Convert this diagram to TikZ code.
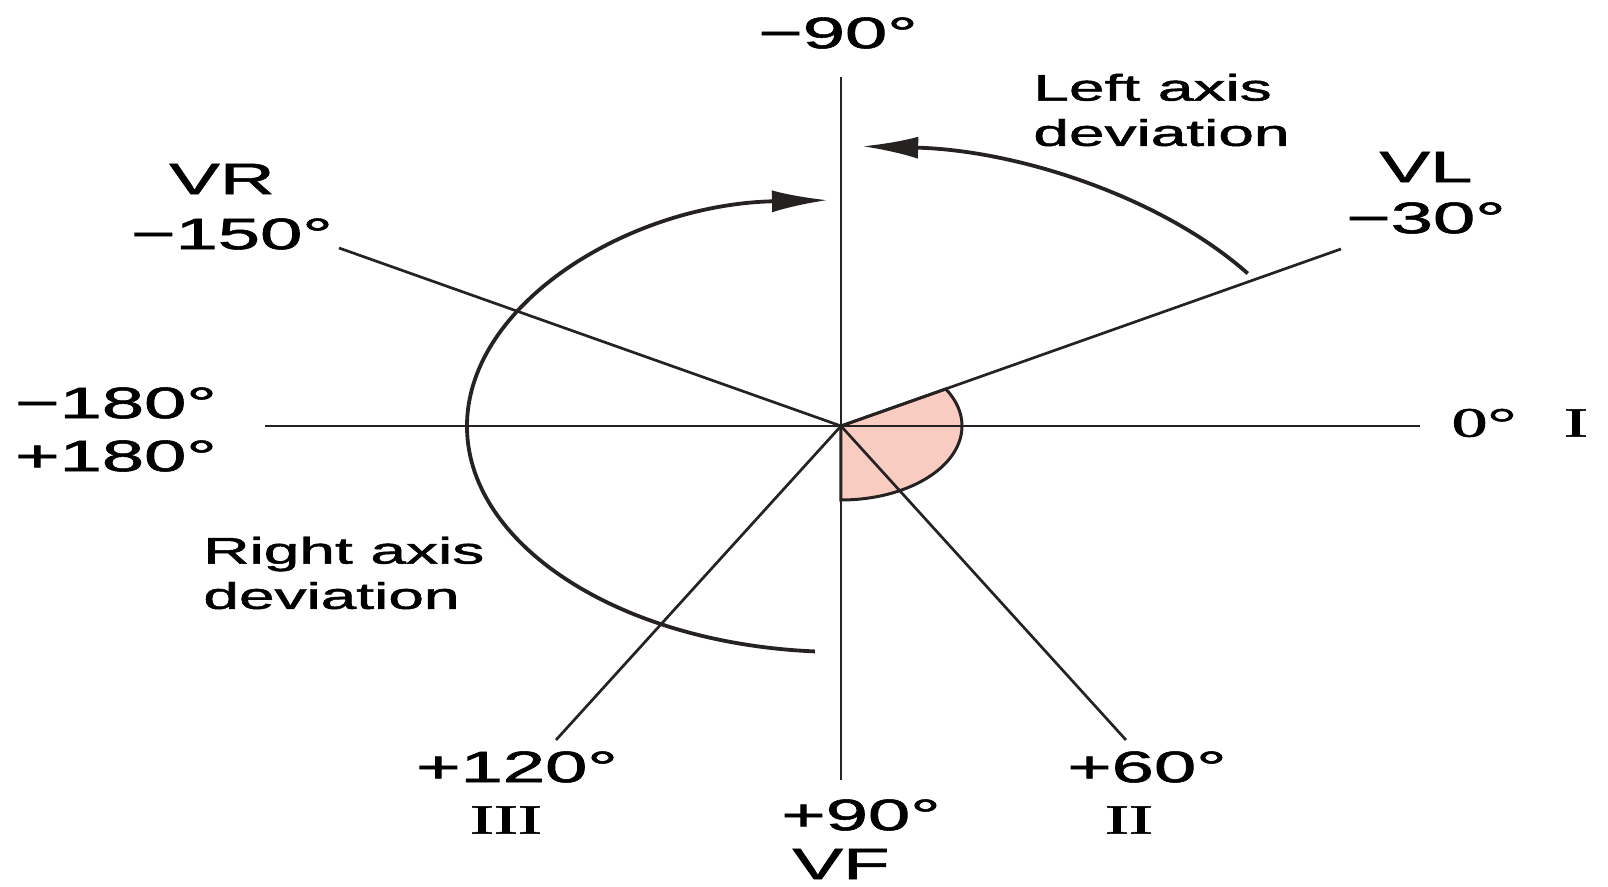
\documentclass[tikz,border=0pt]{standalone}
\usepackage{fontspec}
\newfontfamily\labelsans[FakeBold=1.2]{Liberation Sans}
\newfontfamily\labelserif[FakeBold=1.2]{Liberation Serif}
\usepackage{tikz}
\usetikzlibrary{arrows.meta}
\definecolor{sectorpink}{RGB}{249,204,194}
\definecolor{ink}{RGB}{38,34,34}

\begin{document}
\begin{tikzpicture}[x=0.5pt,y=0.5pt,
    axis/.style={draw=ink,line width=1.35pt},
    sweep/.style={draw=ink,line width=1.9pt,-{Latex[length=28pt,width=11pt]}},
    lbl/.style={font=\labelsans\fontsize{38}{46}\selectfont,yscale=0.58,inner sep=0pt},
    lead/.style={font=\labelserif\fontsize{36}{44}\selectfont,yscale=0.58,inner sep=0pt},
    note/.style={font=\labelsans\fontsize{32}{39}\selectfont,yscale=0.58,inner sep=0pt,align=left,anchor=west}]
      \useasboundingbox (-841,-461) rectangle (767,426);
      \coordinate (o) at (0,0);
      \coordinate (west) at (-576,0);
      \coordinate (east) at (579,0);
      \coordinate (north) at (0,349);
      \coordinate (south) at (0,-354);
      \coordinate (avl) at (500,177);
      \coordinate (avr) at (-502,178);
      \coordinate (aii) at (285,-314);
      \coordinate (aiii) at (-285,-314);
      \filldraw[fill=sectorpink,draw=ink,line width=1.5pt](o)--(30:121 and 74)
        arc[start angle=30,end angle=-90,x radius=121,y radius=74]--cycle;
      \draw[axis](west)--(east);
      \draw[axis](north)--(south);
      \draw[axis](o)--(avl);
      \draw[axis](o)--(avr);
      \draw[axis](o)--(aii);
      \draw[axis](o)--(aiii);
      \draw[sweep](33:485 and 280) arc[start angle=33,end angle=87.5,x radius=485,y radius=280];
      \draw[sweep](266:374 and 226) arc[start angle=266,end angle=92,x radius=374,y radius=226];
      \node[lbl] (m90) at (-3,393) {−90°};
      \node[lbl] (vr) at (-619,247) {VR};
      \node[lbl] (m150) at (-609,192) {−150°};
      \node[lbl] (vl) at (585,259) {VL};
      \node[lbl] (m30) at (585,208) {−30°};
      \node[lbl] (m180) at (-725,23) {−180°};
      \node[lbl] (p180) at (-725,-30) {+180°};
      \node[lead] (zero) at (643,3) {0°};
      \node[lead] (lead1) at (735,3) {I};
      \node[lbl] (p120) at (-324,-341) {+120°};
      \node[lead] (lead3) at (-335,-394) {III};
      \node[lbl] (p90) at (20,-389) {+90°};
      \node[lbl] (vf) at (0,-438) {VF};
      \node[lbl] (p60) at (306,-341) {+60°};
      \node[lead] (lead2) at (288,-394) {II};
      \node[note] (lad) at (192,316) {Left axis\\deviation};
      \node[note] (rad) at (-638,-147) {Right axis\\deviation};
    \end{tikzpicture}
\end{document}
